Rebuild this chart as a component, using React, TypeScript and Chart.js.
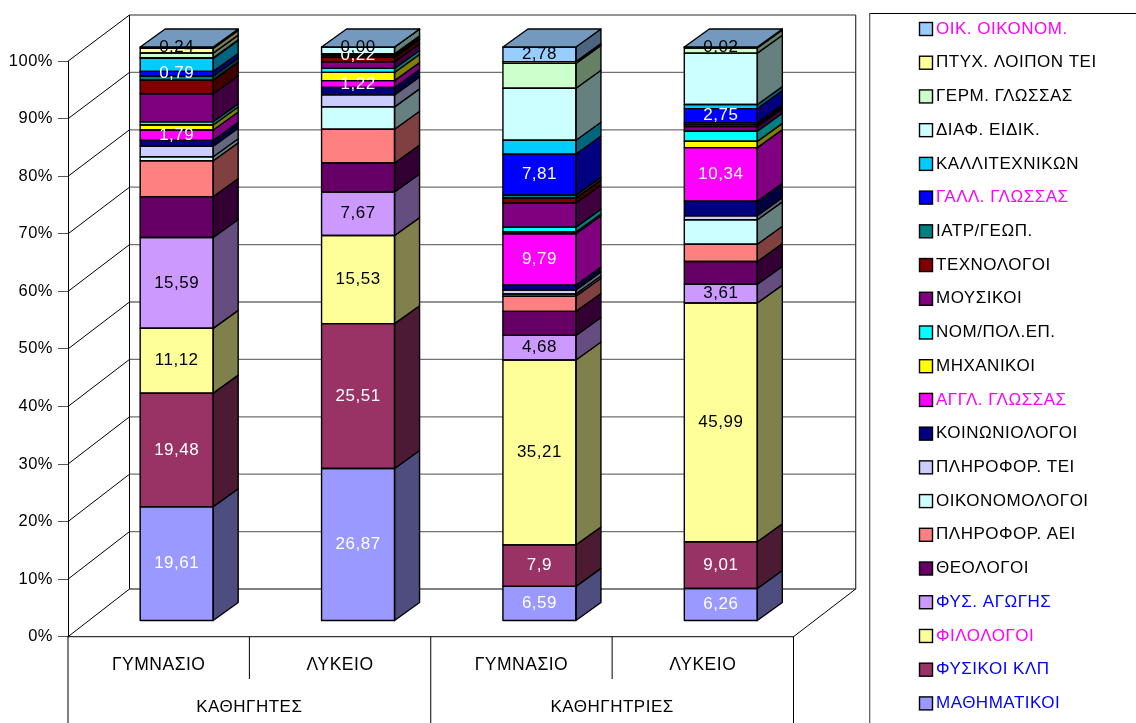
import React, { useEffect, useRef } from "react";
import { Chart, registerables } from "chart.js";

Chart.register(...registerables);

const categories = ["ΓΥΜΝΑΣΙΟ", "ΛΥΚΕΙΟ", "ΓΥΜΝΑΣΙΟ", "ΛΥΚΕΙΟ"];
const groups = ["ΚΑΘΗΓΗΤΕΣ", "ΚΑΘΗΓΗΤΡΙΕΣ"];
const yTicks = [0, 10, 20, 30, 40, 50, 60, 70, 80, 90, 100];

const math = [19.61, 26.87, 6.59, 6.26];
const phys = [19.48, 25.51, 7.9, 9.01];
const phil = [11.12, 15.53, 35.21, 45.99];
const pe = [15.59, 7.67, 4.68, 3.61];
const theo = [7.0, 5.1, 4.57, 4.39];
const infoUni = [6.15, 5.95, 2.9, 3.33];
const econ = [0.7, 3.95, 0.43, 4.71];
const infoTei = [1.8, 2.1, 0.76, 0.78];
const soc = [1.0, 1.3, 0.92, 2.78];
const eng = [1.79, 1.22, 9.79, 10.34];
const mech = [0.85, 1.45, 0.33, 1.22];
const law = [0.55, 0.7, 0.92, 1.94];
const music = [4.8, 1.15, 4.57, 0.89];
const tech = [2.35, 0.8, 0.98, 0.39];
const med = [0.7, 0.25, 0.54, 0.33];
const fr = [0.79, 0.22, 7.81, 2.75];
const art = [2.25, 0.15, 2.65, 0.78];
const spec = [0.1, 1.2, 9.9, 9.9];
const ger = [0.8, 0, 4.74, 1.0];
const tei = [0.8, 0, 0.33, 0.17];
const oik = [0.24, 0, 2.78, 0.02];

const seriesValues = [math, phys, phil, pe, theo, infoUni, econ, infoTei, soc, eng, mech, law, music, tech, med, fr, art, spec, ger, tei, oik];
const seriesNames = ["ΜΑΘΗΜΑΤΙΚΟΙ", "ΦΥΣΙΚΟΙ ΚΛΠ", "ΦΙΛΟΛΟΓΟΙ", "ΦΥΣ. ΑΓΩΓΗΣ", "ΘΕΟΛΟΓΟΙ", "ΠΛΗΡΟΦΟΡ. ΑΕΙ", "ΟΙΚΟΝΟΜΟΛΟΓΟΙ", "ΠΛΗΡΟΦΟΡ. ΤΕΙ", "ΚΟΙΝΩΝΙΟΛΟΓΟΙ", "ΑΓΓΛ. ΓΛΩΣΣΑΣ", "ΜΗΧΑΝΙΚΟΙ", "ΝΟΜ/ΠΟΛ.ΕΠ.", "ΜΟΥΣΙΚΟΙ", "ΤΕΧΝΟΛΟΓΟΙ", "ΙΑΤΡ/ΓΕΩΠ.", "ΓΑΛΛ. ΓΛΩΣΣΑΣ", "ΚΑΛΛΙΤΕΧΝΙΚΩΝ", "ΔΙΑΦ. ΕΙΔΙΚ.", "ΓΕΡΜ. ΓΛΩΣΣΑΣ", "ΠΤΥΧ. ΛΟΙΠΟΝ ΤΕΙ", "ΟΙΚ. ΟΙΚΟΝΟΜ."];
const seriesColors = ["#9999FF", "#993366", "#FFFF99", "#CC99FF", "#660066", "#FF8080", "#CCFFFF", "#CCCCFF", "#000080", "#FF00FF", "#FFFF00", "#00FFFF", "#800080", "#800000", "#008080", "#0000FF", "#00CCFF", "#CCFFFF", "#CCFFCC", "#FFFF99", "#99CCFF"];
const legendTextColors = ["#0000FF", "#0000FF", "#FF00FF", "#0000FF", "#000", "#000", "#000", "#000", "#000", "#FF00FF", "#000", "#000", "#000", "#000", "#000", "#FF00FF", "#000", "#000", "#000", "#000", "#FF00FF"];
const labelColors: Record<number, string> = { 0: "#fff", 1: "#fff", 2: "#000", 3: "#000", 9: "#fff", 15: "#fff", 20: "#000" };

const FONT = '"Liberation Sans", Arial, sans-serif';
const FONT_SIZE = 17;
const SPACING = "0.5px";
const W = 1136, H = 723;
const LEFT = 68, RIGHT = 793.5, TOP = 61.2, BOTTOM = 636.7;
const WALL_DX = 61.5, WALL_BOTTOM = 589, WALL_TOP = 15;
const BAR_DX = 18, BAR_BOTTOM = 621, BAR_H = 574, BAR_W = 73, DEPTH_X = 25, DEPTH_Y = 18;

const shade = (hex: string, f: number) => {
  const n = parseInt(hex.slice(1), 16);
  const c = [(n >> 16) & 255, (n >> 8) & 255, n & 255].map((v) => Math.round(v * f));
  return `rgb(${c[0]},${c[1]},${c[2]})`;
};

const line = (ctx: CanvasRenderingContext2D, x0: number, y0: number, x1: number, y1: number, color: string, width = 1) => {
  ctx.strokeStyle = color;
  ctx.lineWidth = width;
  ctx.beginPath();
  ctx.moveTo(x0, y0);
  ctx.lineTo(x1, y1);
  ctx.stroke();
};

const quad = (ctx: CanvasRenderingContext2D, pts: number[][], fill: string) => {
  ctx.beginPath();
  ctx.moveTo(pts[0][0], pts[0][1]);
  pts.slice(1).forEach((p) => ctx.lineTo(p[0], p[1]));
  ctx.closePath();
  ctx.fillStyle = fill;
  ctx.fill();
  ctx.strokeStyle = "#000";
  ctx.lineWidth = 1.4;
  ctx.lineJoin = "round";
  ctx.stroke();
};

const totals = categories.map((_, i) => seriesValues.reduce((s, v) => s + v[i], 0));
const shares = (values: number[]) => values.map((v, i) => (v / totals[i]) * 100);

const formatValue = (v: number) => {
  if (v === 0) return "0,00";
  const s = String(v);
  return (s.includes(".") && s.split(".")[1].length === 1 ? s : v.toFixed(2)).replace(".", ",");
};

const wallPlugin = {
  id: "wall3d",
  beforeDraw(chart: any) {
    (chart.ctx as any).letterSpacing = SPACING;
  },
  beforeDatasetsDraw(chart: any) {
    const { ctx, scales } = chart;
    const yS = scales.y, xS = scales.x;
    const wallY = (v: number) => WALL_BOTTOM - ((BOTTOM - yS.getPixelForValue(v)) * (WALL_BOTTOM - WALL_TOP)) / (BOTTOM - TOP);
    const backL = LEFT + WALL_DX, backR = RIGHT + WALL_DX + 0.7;
    ctx.save();
    yS.ticks.forEach((t: any) => {
      const py = yS.getPixelForValue(t.value);
      const wy = wallY(t.value);
      if (t.value > 0) line(ctx, backL, wy, backR, wy, "#707070", 1.3);
      line(ctx, LEFT, py, backL, wy, "#000", 1);
    });
    line(ctx, backL, WALL_TOP, backL, WALL_BOTTOM, "#000", 1);
    line(ctx, backR, WALL_TOP, backR, WALL_BOTTOM, "#333", 1.2);
    line(ctx, backL, WALL_BOTTOM, backR, WALL_BOTTOM, "#000", 1.2);
    line(ctx, RIGHT, BOTTOM, backR, WALL_BOTTOM, "#000", 1);
    line(ctx, LEFT, H, LEFT, BOTTOM, "#000", 1);
    const step = xS.getPixelForTick(1) - xS.getPixelForTick(0);
    categories.forEach((_, i) => {
      const edge = xS.getPixelForTick(i) + step / 2;
      line(ctx, edge, BOTTOM, edge, i % 2 === 0 ? 679 : H, "#000", 1);
    });
    ctx.restore();
    ctx.save();
    ctx.translate(BAR_DX, BAR_BOTTOM);
    ctx.scale(1, BAR_H / (BOTTOM - TOP));
    ctx.translate(0, -BOTTOM);
  },
  afterDatasetsDraw(chart: any) {
    const { ctx, scales } = chart;
    const n = chart.data.datasets.length;
    const labels: any[] = [];
    for (let c = 0; c < categories.length; c++) {
      for (let d = 0; d < n; d++) {
        const el = chart.getDatasetMeta(d).data[c];
        const x0 = el.x - el.width / 2, x1 = el.x + el.width / 2;
        const yt = el.y, yb = el.base;
        quad(ctx, [[x1, yt], [x1 + DEPTH_X, yt - DEPTH_Y], [x1 + DEPTH_X, yb - DEPTH_Y], [x1, yb]], shade(seriesColors[d], 0.5));
        ctx.strokeStyle = "#000";
        ctx.lineWidth = 1.4;
        ctx.strokeRect(x0, yt, x1 - x0, yb - yt);
        if (d === n - 1) {
          quad(ctx, [[x0, yt], [x1, yt], [x1 + DEPTH_X, yt - DEPTH_Y], [x0 + DEPTH_X, yt - DEPTH_Y]], shade(seriesColors[d], 0.75));
        }
        if (labelColors[d]) {
          labels.push({ text: formatValue(seriesValues[d][c]), x: el.x, y: (yt + yb) / 2, color: labelColors[d] });
        }
      }
    }
    ctx.font = `${FONT_SIZE}px ${FONT}`;
    ctx.textAlign = "center";
    ctx.textBaseline = "middle";
    labels.forEach((l) => {
      ctx.fillStyle = l.color;
      ctx.fillText(l.text, l.x, l.y);
    });
    ctx.restore();

    ctx.save();
    ctx.font = `${FONT_SIZE}px ${FONT}`;
    ctx.textAlign = "center";
    ctx.textBaseline = "middle";
    ctx.fillStyle = "#000";
    groups.forEach((g, i) => {
      const cx = (scales.x.getPixelForTick(i * 2) + scales.x.getPixelForTick(i * 2 + 1)) / 2;
      ctx.fillText(g, cx, 707);
    });
    ctx.restore();

    ctx.save();
    line(ctx, 869.7, 13.5, W, 13.5, "#000", 1.2);
    line(ctx, 869.7, 13, 869.7, H, "#555", 1.2);
    ctx.font = `${FONT_SIZE}px ${FONT}`;
    ctx.textAlign = "left";
    ctx.textBaseline = "middle";
    for (let i = 0; i < n; i++) {
      const d = n - 1 - i;
      const cy = 29 + i * 33.72;
      ctx.fillStyle = seriesColors[d];
      ctx.fillRect(919.5, cy - 6.5, 13, 13);
      ctx.strokeStyle = "#000";
      ctx.lineWidth = 1.4;
      ctx.strokeRect(919.5, cy - 6.5, 13, 13);
      ctx.fillStyle = legendTextColors[d];
      ctx.fillText(chart.data.datasets[d].label, 936, cy);
    }
    ctx.restore();
  },
};

export default function App() {
  const ref = useRef<HTMLCanvasElement>(null);
  useEffect(() => {
    const chart = new Chart(ref.current!, {
      type: "bar",
      data: {
        labels: categories,
        datasets: seriesValues.map((v, i) => ({
          label: seriesNames[i],
          data: shares(v),
          backgroundColor: seriesColors[i],
          borderWidth: 0,
          barThickness: BAR_W,
          clip: false as any,
        })),
      },
      options: {
        animation: false,
        responsive: false,
        devicePixelRatio: 1,
        layout: { padding: { top: TOP, right: W - RIGHT, bottom: 0, left: 0 } },
        plugins: { legend: { display: false }, tooltip: { enabled: false }, title: { display: false } },
        scales: {
          x: {
            stacked: true,
            offset: true,
            afterFit: (s: any) => { s.height = H - BOTTOM; },
            grid: { display: false },
            border: { display: true, color: "#333", width: 1.2 },
            ticks: { color: "#000", padding: 10, font: { family: FONT, size: 17.5 }, maxRotation: 0 },
          },
          y: {
            stacked: true,
            min: 0,
            max: 100,
            afterFit: (s: any) => { s.width = LEFT; },
            afterBuildTicks: (s: any) => { s.ticks = yTicks.map((value) => ({ value })); },
            grid: { drawOnChartArea: false, drawTicks: true, tickLength: 10, color: "#555", lineWidth: 1 },
            border: { display: true, color: "#000", width: 1 },
            ticks: { color: "#000", padding: 5, font: { family: FONT, size: 16.5 }, callback: (v: any) => `${v}%` },
          },
        },
      },
      plugins: [wallPlugin],
    } as any);
    return () => chart.destroy();
  }, []);
  return (
    <div style={{ position: "absolute", left: 0, top: 0, width: W, height: H, background: "#fff" }}>
      <canvas ref={ref} width={W} height={H} style={{ display: "block" }} />
    </div>
  );
}
